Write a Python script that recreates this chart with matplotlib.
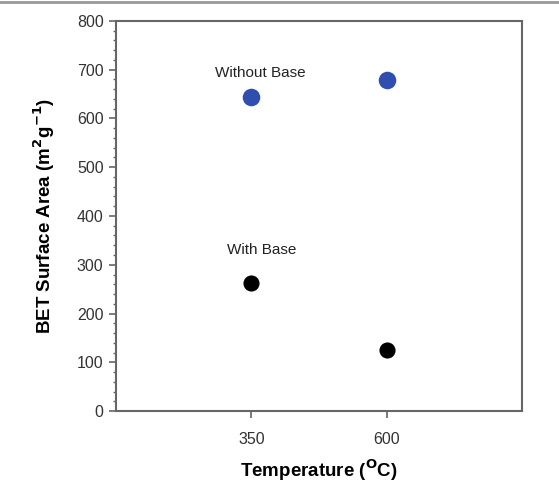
import matplotlib
matplotlib.use("Agg")
import matplotlib.pyplot as plt
from matplotlib.ticker import MultipleLocator
from matplotlib.lines import Line2D

categories = ["350", "600"]
without_base = [644, 679]
with_base = [263, 125]
y_ticks = [0, 100, 200, 300, 400, 500, 600, 700, 800]

plt.rcParams['font.family'] = ['Liberation Sans', 'DejaVu Sans']

fig = plt.figure(figsize=(5.59, 4.92), dpi=100)
W, H = 559, 492
ax = fig.add_axes([116 / W, 1 - 411 / H, (522 - 116) / W, (411 - 21) / H])

xpos = [1, 2]
ax.scatter(xpos, without_base, s=160, color="#2f4eb0", zorder=3, linewidths=0)
ax.scatter(xpos, with_base, s=135, color="black", zorder=3, linewidths=0)

ax.text(1.07, 693, "Without Base", ha="center", va="center", fontsize=11, color="#222222")
ax.text(1.08, 330, "With Base", ha="center", va="center", fontsize=11, color="#222222")

ax.set_xlim(0, 3)
ax.set_ylim(0, 800)
ax.set_xticks(xpos)
ax.set_xticklabels(categories)
ax.set_yticks(y_ticks)
ax.yaxis.set_minor_locator(MultipleLocator(20))

for sp in ax.spines.values():
    sp.set_color("#666666")
    sp.set_linewidth(1.5)

ax.tick_params(axis="both", which="major", direction="out", length=5, width=1.2,
               color="#666666", labelsize=11.5, labelcolor="#333333", pad=4)
ax.tick_params(axis="y", which="minor", direction="out", length=2.5, width=1, color="#666666")
ax.tick_params(axis="x", which="major", pad=10)

ax.set_ylabel("BET Surface Area (m$^\\mathbf{2}$g$^\\mathbf{-1}$)", fontsize=13.5,
              fontweight="bold", labelpad=14)
ax.set_xlabel("Temperature ($^\\mathbf{O}$C)", fontsize=13.5, fontweight="bold", labelpad=8)

fig.add_artist(Line2D([0, 1], [1 - 2 / H, 1 - 2 / H], transform=fig.transFigure,
                      color="#999999", linewidth=2))

fig.savefig("out.png", dpi=100)
